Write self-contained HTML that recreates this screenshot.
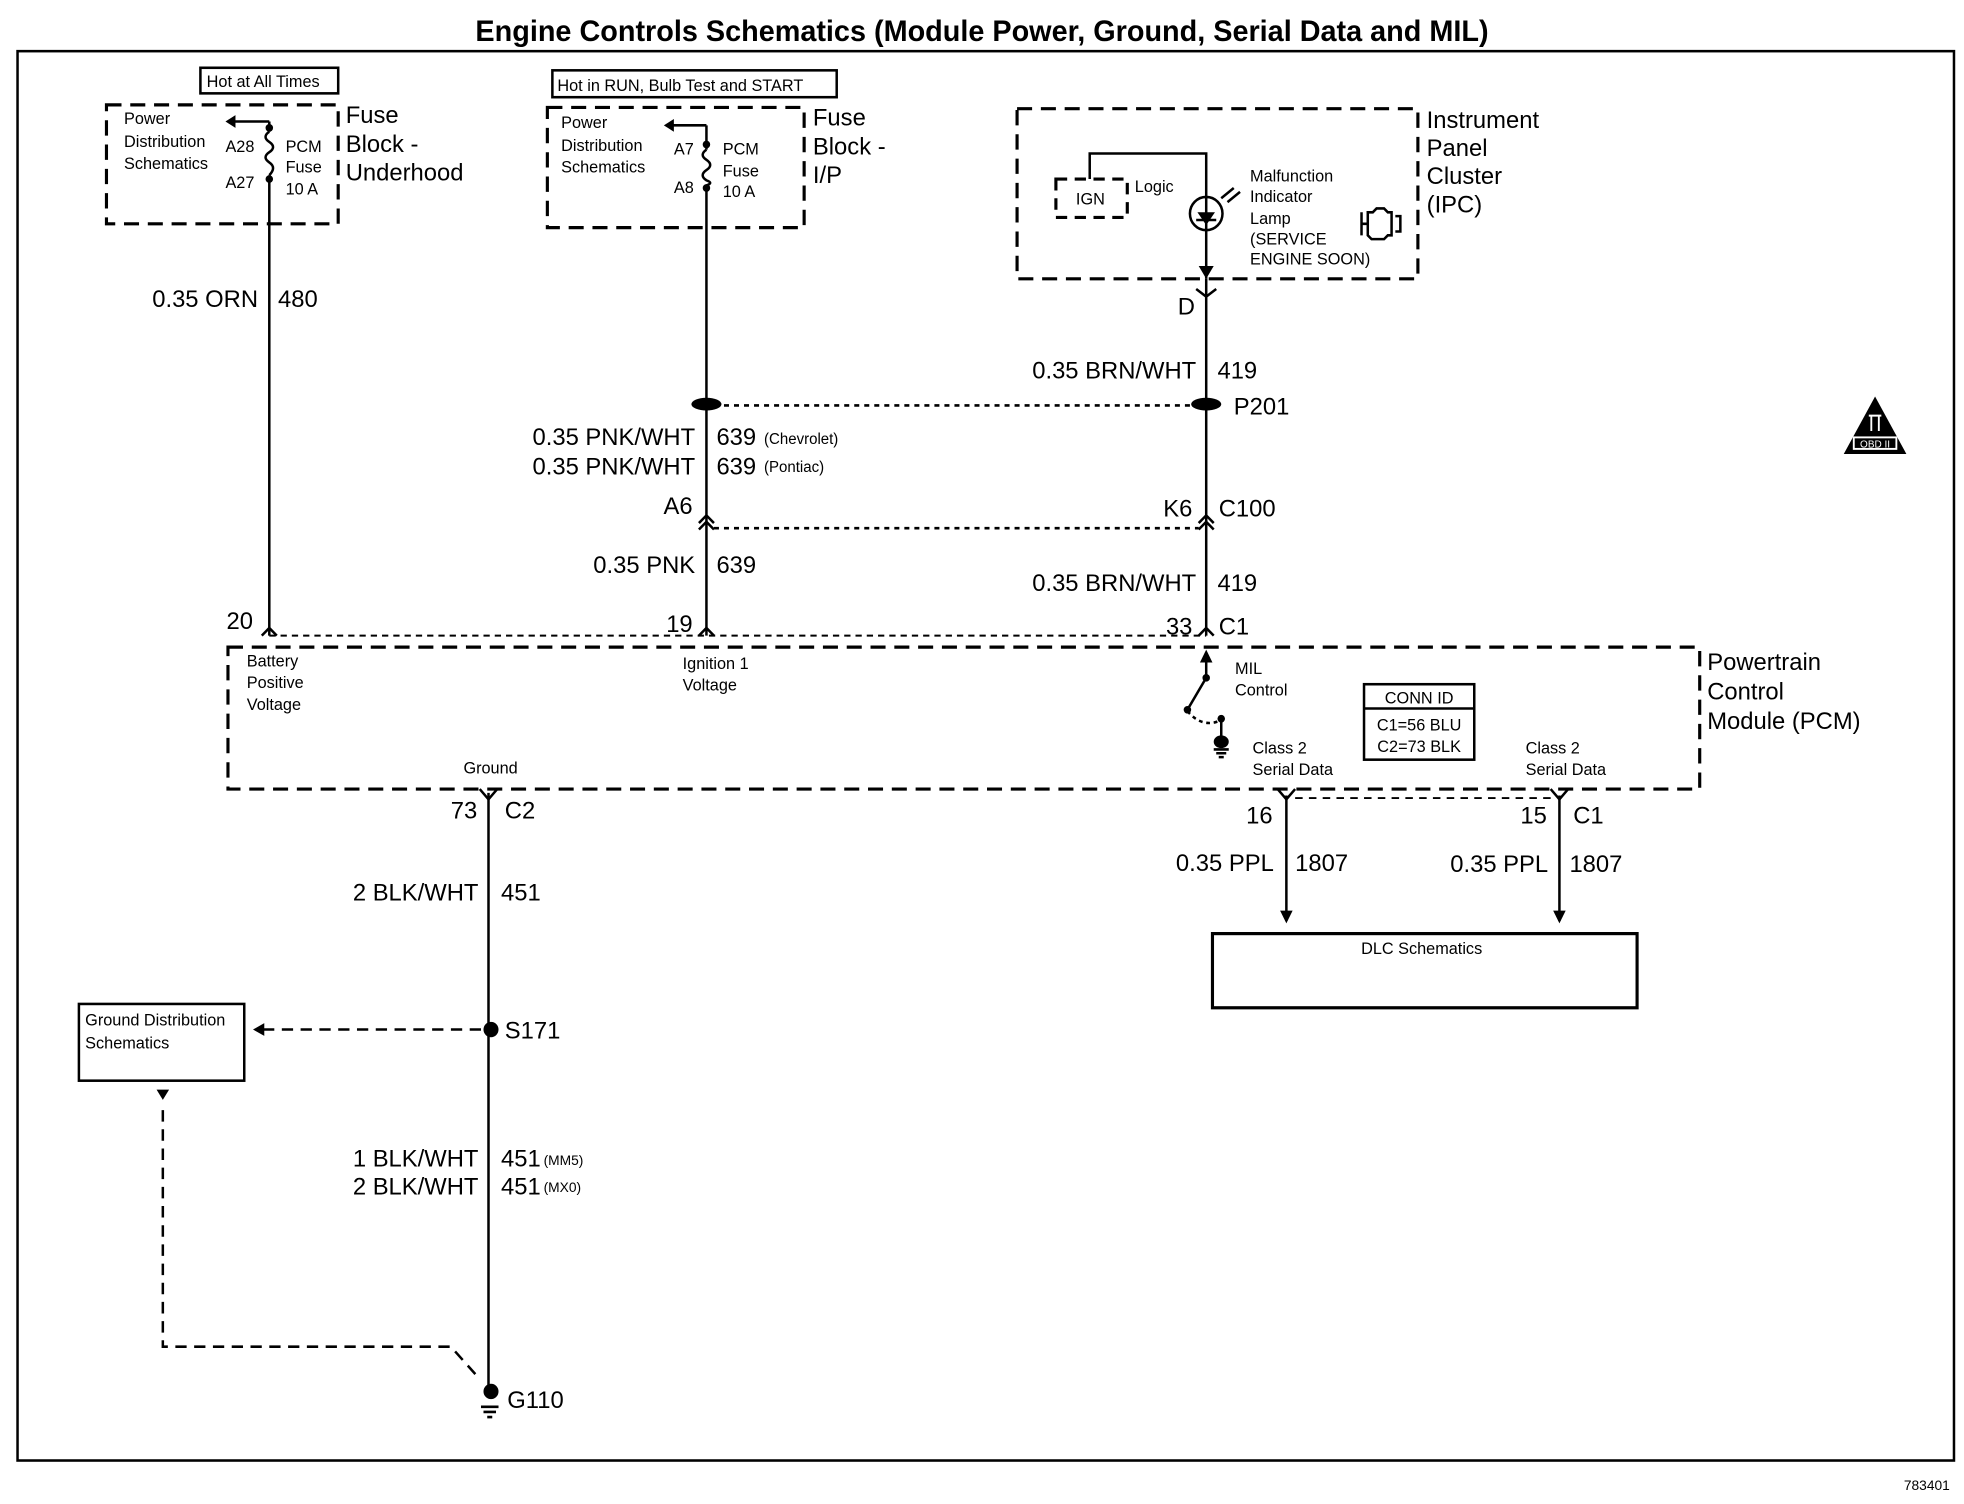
<!DOCTYPE html>
<html><head><meta charset="utf-8"><style>
html,body{margin:0;padding:0;background:#fff;width:1964px;height:1504px;overflow:hidden;}
svg{display:block;position:absolute;left:0;top:0;}
text{font-family:"Liberation Sans",sans-serif;fill:#000;}
.w{font-size:19px;}
.s{font-size:13px;}
</style></head><body>
<svg width="1964" height="1504" viewBox="0 0 1568 1176" preserveAspectRatio="none" xmlns="http://www.w3.org/2000/svg">
<g stroke="#000" fill="none" stroke-width="2">
<rect x="14" y="40" width="1546" height="1102"/>
<rect x="160" y="53" width="110" height="20"/>
<rect x="85" y="82" width="185" height="93" stroke-dasharray="12,7" stroke-width="2.5"/>
<path d="M215 95 H182"/>
<path d="M215 95 V103 M215 137 V497"/>
<path d="M215 103 q-6 4 0 8 q6 4 0 8 q-6 4 0 8 q6 4 0 10"/>
<rect x="441" y="55" width="227" height="21"/>
<rect x="437" y="84" width="205" height="94" stroke-dasharray="12,7" stroke-width="2.5"/>
<path d="M564 98 H532"/>
<path d="M564 98 V117 M564 145 V497"/>
<path d="M564 117 q-6 4 0 8 q6 4 0 8 q-6 4 0 8 q6 2 0 4"/>
<path d="M570 317 H955" stroke-dasharray="4,4"/>
<path d="M570 413 H957" stroke-dasharray="4,4"/>
<path d="M215 497 H963" stroke-dasharray="5,4" stroke-width="1.5"/>
<rect x="812" y="85" width="320" height="133" stroke-dasharray="12,7" stroke-width="2.5"/>
<rect x="843" y="140" width="57" height="30" stroke-dasharray="9,6" stroke-width="2.5"/>
<path d="M870 140 V120 H963 V218"/>
<circle cx="963" cy="167" r="13"/>
<path d="M955 172 H971"/>
<path d="M963 218 V497"/>
<path d="M955 226 L963 232 L971 226"/>
<path d="M975 155 l10 -8 M980 158 l10 -8"/>
<path d="M1087 166 V184 M1087 175 h5 M1092 166 h4 l3 -3 h6 l3 3 h3 v18 h-3 l-3 3 h-10 l-3 -3 Z M1114 169 h4 v12 h-4"/>
<path d="M182 506 H1357 V617 H182 Z" stroke-dasharray="12,7" stroke-width="2.5"/>
<path d="M963 510 V530 L948 555"/>
<path d="M948 556 Q960 570 975 563" stroke-dasharray="3,3"/>
<path d="M975 562 V578"/>
<rect x="1089" y="535" width="88" height="59"/>
<path d="M1089 554 H1177"/>
<path d="M390 620 V1088"/>
<path d="M383 617 L390 625 L397 617"/>
<path d="M210 805 H386" stroke-dasharray="9,6"/>
<rect x="63" y="785" width="132" height="60"/>
<path d="M130 868 V1053 H360 L380 1075" stroke-dasharray="9,6"/>
<path d="M384 1100 H398 M386 1104 H396 M389 1108 H393"/>
<path d="M969 586 H981 M971 589 H979 M973 592 H977"/>
<path d="M1027 622 V720 M1245 622 V720"/>
<path d="M1020 617 L1027 625 L1034 617 M1238 617 L1245 625 L1252 617"/>
<path d="M1034 624 H1238" stroke-dasharray="6,5" stroke-width="1.5"/>
<rect x="968" y="730" width="339" height="58" stroke-width="2.5"/>
<path d="M558 409 L564 403 L570 409 M558 414 L564 408 L570 414"/>
<path d="M957 409 L963 403 L969 409 M957 414 L963 408 L969 414"/>
<path d="M209 497 L215 491 L221 497 M558 497 L564 491 L570 497 M957 497 L963 491 L969 497"/>
</g>
<g fill="#000">
<polygon points="180,95 188,90 188,100"/>
<polygon points="530,98 538,93 538,103"/>
<circle cx="215" cy="100" r="3"/><circle cx="215" cy="140" r="3"/>
<circle cx="564" cy="113" r="3"/><circle cx="564" cy="147" r="3"/>
<polygon points="963,218 957,208 969,208"/>
<polygon points="963,176 956,166 970,166"/>
<ellipse cx="564" cy="316" rx="12" ry="5"/><ellipse cx="963" cy="316" rx="12" ry="5"/>
<polygon points="963,508 958,518 968,518"/>
<circle cx="963" cy="530" r="3"/><circle cx="948" cy="555" r="3"/><circle cx="975" cy="562" r="3"/>
<ellipse cx="975" cy="580" rx="6" ry="5"/>
<circle cx="392" cy="805" r="6"/>
<polygon points="202,805 211,800 211,810"/>
<polygon points="130,860 125,852 135,852"/>
<circle cx="392" cy="1088" r="6"/>
<polygon points="1027,722 1022,712 1032,712"/>
<polygon points="1245,722 1240,712 1250,712"/>
<polygon points="1497,310 1472,355 1522,355"/>
</g>
<g stroke="#fff" stroke-width="1.5" fill="none"><rect x="1480" y="342" width="34" height="9"/><path d="M1492 325 h10 M1494 325 v12 M1500 325 v12"/></g>
<text x="1497" y="350" font-size="8" text-anchor="middle" style="fill:#fff">OBD II</text>

<text x="784" y="32" text-anchor="middle" font-size="23" font-weight="bold">Engine Controls Schematics (Module Power, Ground, Serial Data and MIL)</text>
<text x="1520" y="1165" font-size="11">783401</text>

<text x="165" y="68" class="s">Hot at All Times</text>
<text x="99" y="97" class="s">Power</text><text x="99" y="115" class="s">Distribution</text><text x="99" y="132" class="s">Schematics</text>
<text x="180" y="119" class="s">A28</text><text x="180" y="147" class="s">A27</text>
<text x="228" y="119" class="s">PCM</text><text x="228" y="135" class="s">Fuse</text><text x="228" y="152" class="s">10 A</text>
<text x="276" y="96" class="w">Fuse</text><text x="276" y="119" class="w">Block -</text><text x="276" y="141" class="w">Underhood</text>

<text x="445" y="71" class="s">Hot in RUN, Bulb Test and START</text>
<text x="448" y="100" class="s">Power</text><text x="448" y="118" class="s">Distribution</text><text x="448" y="135" class="s">Schematics</text>
<text x="538" y="121" class="s">A7</text><text x="538" y="151" class="s">A8</text>
<text x="577" y="121" class="s">PCM</text><text x="577" y="138" class="s">Fuse</text><text x="577" y="154" class="s">10 A</text>
<text x="649" y="98" class="w">Fuse</text><text x="649" y="121" class="w">Block -</text><text x="649" y="143" class="w">I/P</text>

<text x="906" y="150" class="s">Logic</text><text x="859" y="160" class="s">IGN</text>
<text x="998" y="142" class="s">Malfunction</text><text x="998" y="158" class="s">Indicator</text><text x="998" y="175" class="s">Lamp</text><text x="998" y="191" class="s">(SERVICE</text><text x="998" y="207" class="s">ENGINE SOON)</text>
<text x="1139" y="100" class="w">Instrument</text><text x="1139" y="122" class="w">Panel</text><text x="1139" y="144" class="w">Cluster</text><text x="1139" y="166" class="w">(IPC)</text>

<text x="206" y="240" class="w" text-anchor="end">0.35 ORN</text><text x="222" y="240" class="w">480</text>
<text x="954" y="246" class="w" text-anchor="end">D</text>
<text x="955" y="296" class="w" text-anchor="end">0.35 BRN/WHT</text><text x="972" y="296" class="w">419</text>
<text x="985" y="324" class="w">P201</text>
<text x="555" y="348" class="w" text-anchor="end">0.35 PNK/WHT</text><text x="572" y="348" class="w">639</text><text x="610" y="347" font-size="12">(Chevrolet)</text>
<text x="555" y="371" class="w" text-anchor="end">0.35 PNK/WHT</text><text x="572" y="371" class="w">639</text><text x="610" y="369" font-size="12">(Pontiac)</text>
<text x="553" y="402" class="w" text-anchor="end">A6</text>
<text x="952" y="404" class="w" text-anchor="end">K6</text><text x="973" y="404" class="w">C100</text>
<text x="555" y="448" class="w" text-anchor="end">0.35 PNK</text><text x="572" y="448" class="w">639</text>
<text x="955" y="462" class="w" text-anchor="end">0.35 BRN/WHT</text><text x="972" y="462" class="w">419</text>
<text x="202" y="492" class="w" text-anchor="end">20</text>
<text x="553" y="494" class="w" text-anchor="end">19</text>
<text x="952" y="496" class="w" text-anchor="end">33</text><text x="973" y="496" class="w">C1</text>

<text x="197" y="521" class="s">Battery</text><text x="197" y="538" class="s">Positive</text><text x="197" y="555" class="s">Voltage</text>
<text x="545" y="523" class="s">Ignition 1</text><text x="545" y="540" class="s">Voltage</text>
<text x="986" y="527" class="s">MIL</text><text x="986" y="544" class="s">Control</text>
<text x="1133" y="550" class="s" text-anchor="middle">CONN ID</text>
<text x="1133" y="571" class="s" text-anchor="middle">C1=56 BLU</text><text x="1133" y="588" class="s" text-anchor="middle">C2=73 BLK</text>
<text x="1000" y="589" class="s">Class 2</text><text x="1000" y="606" class="s">Serial Data</text>
<text x="1218" y="589" class="s">Class 2</text><text x="1218" y="606" class="s">Serial Data</text>
<text x="370" y="605" class="s">Ground</text>
<text x="1363" y="524" class="w">Powertrain</text><text x="1363" y="547" class="w">Control</text><text x="1363" y="570" class="w">Module (PCM)</text>

<text x="381" y="640" class="w" text-anchor="end">73</text><text x="403" y="640" class="w">C2</text>
<text x="1016" y="644" class="w" text-anchor="end">16</text>
<text x="1235" y="644" class="w" text-anchor="end">15</text><text x="1256" y="644" class="w">C1</text>
<text x="1017" y="681" class="w" text-anchor="end">0.35 PPL</text><text x="1034" y="681" class="w">1807</text>
<text x="1236" y="682" class="w" text-anchor="end">0.35 PPL</text><text x="1253" y="682" class="w">1807</text>
<text x="1135" y="746" class="s" text-anchor="middle">DLC Schematics</text>
<text x="382" y="704" class="w" text-anchor="end">2 BLK/WHT</text><text x="400" y="704" class="w">451</text>
<text x="68" y="802" class="s">Ground Distribution</text><text x="68" y="820" class="s">Schematics</text>
<text x="403" y="812" class="w">S171</text>
<text x="382" y="912" class="w" text-anchor="end">1 BLK/WHT</text><text x="400" y="912" class="w">451</text><text x="434" y="911" font-size="11">(MM5)</text>
<text x="382" y="934" class="w" text-anchor="end">2 BLK/WHT</text><text x="400" y="934" class="w">451</text><text x="434" y="932" font-size="11">(MX0)</text>
<text x="405" y="1101" class="w">G110</text>
</svg>
</body></html>
